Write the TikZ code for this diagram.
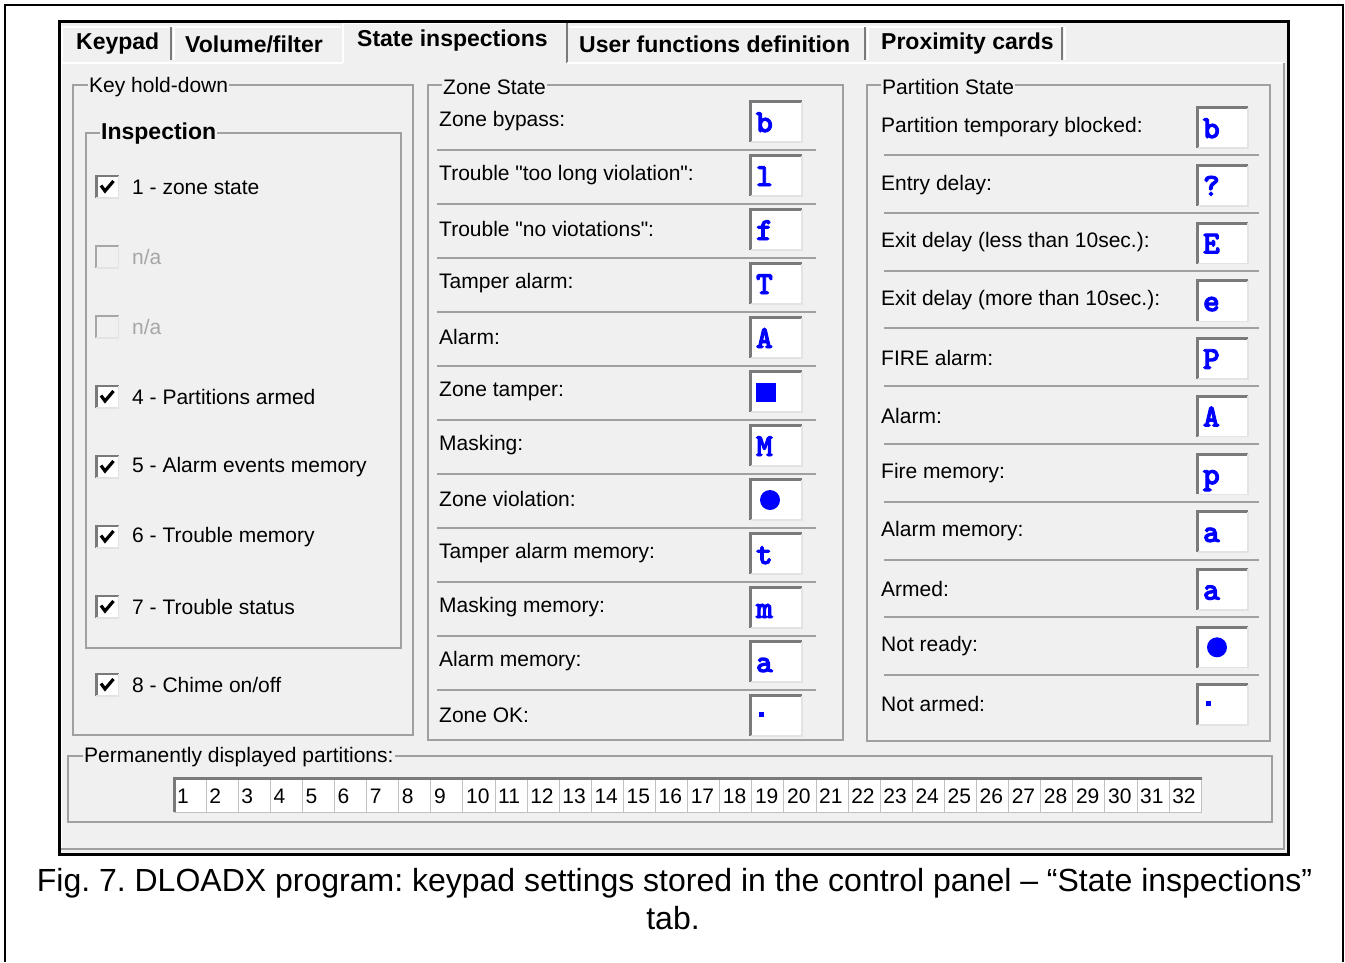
\documentclass[tikz,border=0pt]{standalone}
\usepackage{fontspec}
\setmainfont{Liberation Sans}
\newfontfamily\monofnt[FakeBold=3]{lmmonolt10-bold.otf}
\usetikzlibrary{positioning}
\frenchspacing

\definecolor{dlgbg}{HTML}{F0F0F0}
\definecolor{etch}{HTML}{A0A0A0}
\definecolor{sunk}{HTML}{7A7A7A}
\definecolor{rim}{HTML}{E3E3E3}
\definecolor{symblue}{HTML}{0000FF}
\definecolor{greyed}{HTML}{A6A6A6}

% symbols shown in the edit boxes
\newcommand{\sqmark}{\rule{20pt}{19pt}}
\newcommand{\ballmark}{\hspace{4pt}\tikz\fill[symblue] (0,0) circle (10pt);}
\newcommand{\dotmark}{\hspace{3pt}\raisebox{9pt}{\rule{5pt}{5pt}}}
\newcommand{\dq}{\textquotedbl}

\tikzset{
  dlgtext/.style={anchor=west, inner sep=0pt, font=\fontsize{21}{24}\selectfont},
  boldtext/.style={anchor=west, inner sep=0pt, font=\fontsize{23}{26}\selectfont\bfseries},
  grouptitle/.style={dlgtext, fill=dlgbg, inner xsep=1pt},
  groupline/.style={draw=etch, line width=2pt},
  sepline/.style={etch, line width=2pt},
  editbox/.style={rectangle, fill=white, inner sep=0pt, minimum width=51pt, minimum height=40pt},
  tickbox/.style={rectangle, fill=white, inner sep=0pt, minimum size=22pt},
  sunkedge/.style={sunk, line width=3pt},
  rimedge/.style={rim, line width=1.5pt},
  boxsym/.style={anchor=base west, inner sep=0pt, text=symblue, font=\fontsize{32}{32}\selectfont\monofnt},
  figcaption/.style={inner sep=0pt, font=\fontsize{32}{36}\selectfont},
}

\begin{document}
\begin{tikzpicture}[x=1pt,y=-1pt]
\useasboundingbox (0,0) rectangle (1345,962);

% page frame, open at the bottom
\draw[line width=2pt] (5,962) -- (5,5) -- (1343,5) -- (1343,962);

% dialog window
\fill[dlgbg] (59,21) rectangle (1289,854);

% tab row
\draw[white, line width=1.5pt] (62,62) -- (62,27) -- (341,27);
\draw[white, line width=1.5pt] (569,27) -- (1063,27);
\foreach \sx in {171,865,1062}{
  \draw[sunk, line width=2pt] (\sx,27) -- (\sx,60);
  \draw[white, line width=1.5pt] (\sx+3,27) -- (\sx+3,60);
}
\draw[white, line width=1.5pt] (343,63) -- (343,23) -- (566,23);
\draw[sunk, line width=2pt] (567,23) -- (567,63);
\node[boldtext] (tabKeypad) at (76,44) {Keypad};
\node[boldtext] (tabVolume) at (185,44) {Volume/filter};
\node[boldtext] (tabState) at (357,41) {State inspections};
\node[boldtext] (tabUser) at (579,44) {User functions definition};
\node[boldtext] (tabCards) at (881,44) {Proximity cards};

% page of the selected tab
\draw[white, line width=1.5pt] (61,849) -- (61,63) -- (343,63);
\draw[white, line width=1.5pt] (567,63) -- (1284,63);
\draw[etch, line width=2pt] (1284,63) -- (1284,849) -- (61,849);

% key hold-down group
\draw[groupline] (73,85) rectangle (413,735);
\node[grouptitle] (keyTitle) at (88,87) {Key hold-down};
\draw[groupline] (86,133) rectangle (401,648);
\node[boldtext, fill=dlgbg, inner xsep=1pt] (inspTitle) at (100,134) {Inspection};

\foreach \cy/\txt [count=\i] in {187/1 - zone state, 397/4 - Partitions armed,
    467/5 - Alarm events memory, 537/6 - Trouble memory,
    607/7 - Trouble status, 685/8 - Chime on{/}off}{
  \node[tickbox] (tick\i) at (107.5,\cy) {};
  \draw[sunk, line width=2.5pt] (tick\i.south west) -- (tick\i.north west) -- (tick\i.north east);
  \draw[rimedge] (tick\i.north east) -- (tick\i.south east) -- (tick\i.south west);
  \draw[line width=3.2pt] ([shift={(-6.5,-1.5)}]tick\i.center) -- ([shift={(-2.5,4)}]tick\i.center)
    -- ([shift={(6,-6)}]tick\i.center);
  \node[dlgtext] (tickLbl\i) at (132,\cy) {\txt};
}
\foreach \cy [count=\i] in {257,327}{
  \node[tickbox, fill=dlgbg] (off\i) at (107.5,\cy) {};
  \draw[greyed, line width=2pt] (off\i.south west) -- (off\i.north west) -- (off\i.north east);
  \draw[rimedge] (off\i.north east) -- (off\i.south east) -- (off\i.south west);
  \node[dlgtext, text=greyed] (offLbl\i) at (132,\cy) {n/a};
}

% zone state group
\draw[groupline] (428,85) rectangle (843,740);
\node[grouptitle] (zoneTitle) at (442,87) {Zone State};
\foreach \txt/\sym [count=\i from 0] in {Zone bypass:/b, Trouble \dq too long violation\dq:/l,
    Trouble \dq no viotations\dq:/f, Tamper alarm:/T, Alarm:/A, Zone tamper:/\sqmark,
    Masking:/M, Zone violation:/\ballmark, Tamper alarm memory:/t,
    Masking memory:/m, Alarm memory:/a, Zone OK:/\dotmark}{
  \node[editbox] (zbox\i) at (776.5,122+54*\i) {};
  \draw[sunkedge] (zbox\i.south west) -- (zbox\i.north west) -- (zbox\i.north east);
  \draw[rimedge] (zbox\i.north east) -- (zbox\i.south east) -- (zbox\i.south west);
  \node[boxsym] (zsym\i) at ([xshift=5pt,yshift=-10pt]zbox\i.west) {\sym};
  \node[dlgtext] (zlbl\i) at (439,121+54*\i) {\txt};
  \ifnum\i<11 \draw[sepline] (437,150+54*\i) -- (816,150+54*\i); \fi
}

% partition state group
\draw[groupline] (867,85) rectangle (1270,741);
\node[grouptitle] (partTitle) at (881,87) {Partition State};
\foreach \txt/\sym [count=\i from 0] in {Partition temporary blocked:/b, Entry delay:/?,
    Exit delay (less than 10sec.):/E, Exit delay (more than 10sec.):/e,
    FIRE alarm:/P, Alarm:/A, Fire memory:/p, Alarm memory:/a, Armed:/a,
    Not ready:/\ballmark, Not armed:/\dotmark}{
  \node[editbox, minimum width=50pt] (pbox\i) at (1223,128+57.7*\i) {};
  \draw[sunkedge] (pbox\i.south west) -- (pbox\i.north west) -- (pbox\i.north east);
  \draw[rimedge] (pbox\i.north east) -- (pbox\i.south east) -- (pbox\i.south west);
  \node[boxsym] (psym\i) at ([xshift=5pt,yshift=-10pt]pbox\i.west) {\sym};
  \node[dlgtext] (plbl\i) at (881,127+57.7*\i) {\txt};
  \ifnum\i<10 \draw[sepline] (884,155+57.8*\i) -- (1259,155+57.8*\i); \fi
}

% permanently displayed partitions
\draw[groupline] (68,756) rectangle (1272,822);
\node[grouptitle] (permTitle) at (83,757) {Permanently displayed partitions:};
\foreach \n in {1,...,32}{
  \pgfmathsetmacro\cx{174+32.1*(\n-1)}
  \draw[draw=rim!85!black, fill=white, line width=1pt] (\cx,778) rectangle +(32.1,34);
  \node[dlgtext] (num\n) at (\cx+3,796) {\n};
}
\draw[sunkedge] (174,812) -- (174,778) -- (1202,778);

% window outline
\draw[line width=3pt] (59.5,21) rectangle (1288.5,854.5);

% caption
\node[figcaption] (cap1) at (674.5,883) {Fig. 7. DLOADX program: keypad settings stored in the control panel – “State inspections”};
\node[figcaption] (cap2) at (673,918) {tab.};
\end{tikzpicture}
\end{document}
